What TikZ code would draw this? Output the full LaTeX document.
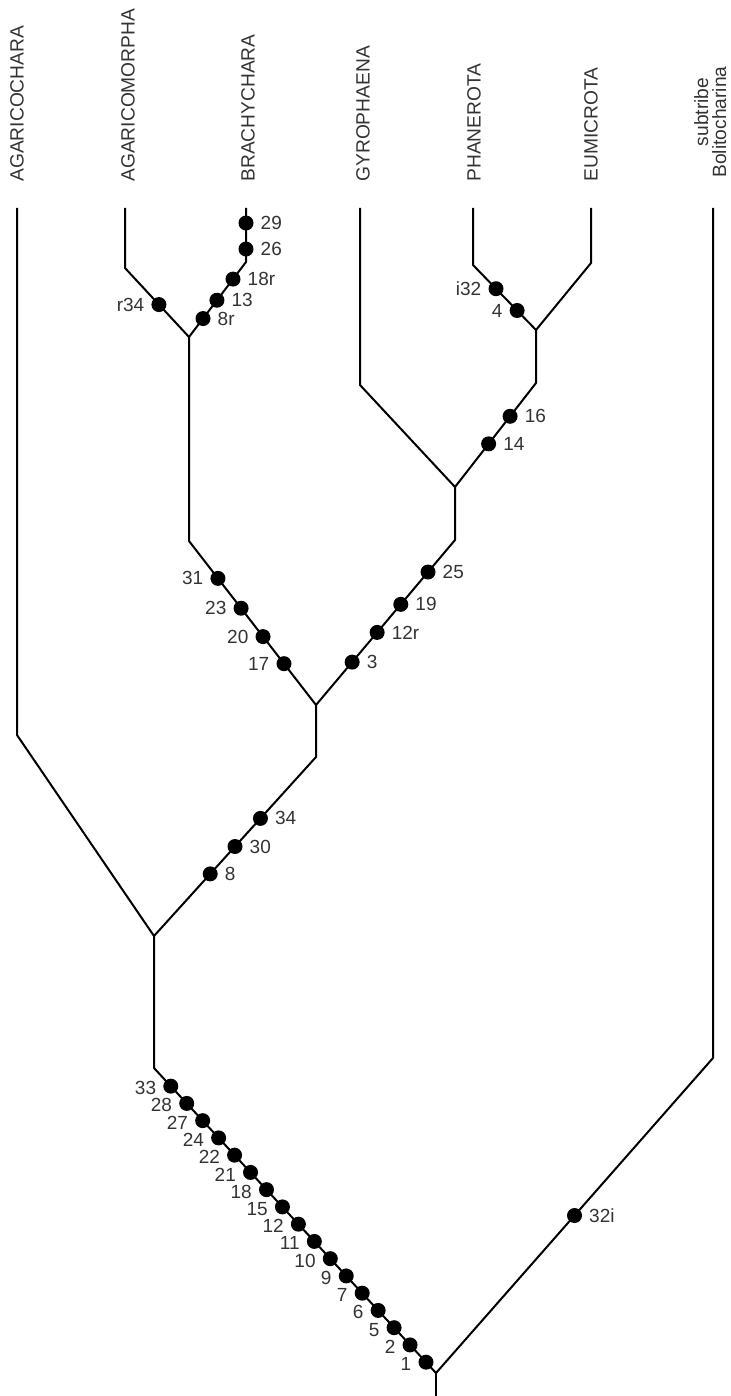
\documentclass[tikz,border=0pt]{standalone}
\usepackage{fontspec}
\setmainfont{Liberation Sans}
\usetikzlibrary{calc}
\begin{document}
\begin{tikzpicture}[x=0.5pt,y=-0.5pt,
  branch/.style={line width=1pt, line join=miter},
  dot/.style={circle, fill=black, inner sep=0pt, minimum size=7.5pt},
  num/.style={font=\fontsize{9.5}{10}\selectfont, text=black!80, inner sep=0pt},
  taxon/.style={rotate=90, inner sep=0pt, font=\fontsize{9.6}{11}\selectfont, text=black!80},
  label distance=3.2pt]
\useasboundingbox (0,0) rectangle (730,1396);

% coordinates
\coordinate (tAgc) at (17,208);  \coordinate (bAgc) at (17,735);
\coordinate (tAgm) at (125,208); \coordinate (bAgm) at (125,268);
\coordinate (tBra) at (246,208); \coordinate (bBra) at (246,262);
\coordinate (jBA)  at (189,337); \coordinate (kBA)  at (189,541);
\coordinate (jMid) at (316,705); \coordinate (kMid) at (316,757);
\coordinate (tGyr) at (360,208); \coordinate (bGyr) at (360,385);
\coordinate (jGP)  at (455,487); \coordinate (kGP)  at (455,540);
\coordinate (tPha) at (473,208); \coordinate (bPha) at (473,265);
\coordinate (tEum) at (591,208); \coordinate (bEum) at (591,263);
\coordinate (jPE)  at (536,330); \coordinate (kPE)  at (536,383);
\coordinate (jAg)  at (154,936); \coordinate (kAg)  at (154,1068);
\coordinate (root) at (436,1373); \coordinate (rootB) at (436,1396);
\coordinate (tBol) at (713,208); \coordinate (bBol) at (713,1058);

% branches
\draw[branch] (tAgc) -- (bAgc) -- (jAg);
\draw[branch] (tAgm) -- (bAgm) -- (jBA);
\draw[branch] (tBra) -- (bBra) -- (jBA);
\draw[branch] (jBA) -- (kBA) -- (jMid);
\draw[branch] (tGyr) -- (bGyr) -- (jGP);
\draw[branch] (tPha) -- (bPha) -- (jPE);
\draw[branch] (tEum) -- (bEum) -- (jPE);
\draw[branch] (jPE) -- (kPE) -- (jGP);
\draw[branch] (jGP) -- (kGP) -- (jMid);
\draw[branch] (jMid) -- (kMid) -- (jAg);
\draw[branch] (jAg) -- (kAg) -- (root);
\draw[branch] (tBol) -- (bBol) -- (root);
\draw[branch] (root) -- (rootB);

% taxon labels
\node[taxon, anchor=west] (nAgc) at (17,182) {AGARICOCHARA};
\node[taxon, anchor=west] (nAgm) at (128,182) {AGARICOMORPHA};
\node[taxon, anchor=west] (nBra) at (248,182) {BRACHYCHARA};
\node[taxon, anchor=west] (nGyr) at (363,182) {GYROPHAENA};
\node[taxon, anchor=west] (nPha) at (474,182) {PHANEROTA};
\node[taxon, anchor=west] (nEum) at (591,182) {EUMICROTA};
\node[taxon, anchor=base] (nSub) at (708,112) {subtribe};
\node[taxon, anchor=base] (nBol) at (726,122) {Bolitocharina};

% Brachychara
\node[dot, label={[num]right:29}] (d29) at ($(tBra)!0.278!(bBra)$) {};
\node[dot, label={[num]right:26}] (d26) at ($(tBra)!0.76!(bBra)$) {};
\node[dot, label={[num]right:18r}] (d18r) at ($(bBra)!0.228!(jBA)$) {};
\node[dot, label={[num]right:13}] (d13) at ($(bBra)!0.51!(jBA)$) {};
\node[dot, label={[num]right:8r}] (d8r) at ($(bBra)!0.754!(jBA)$) {};
\node[dot, label={[num]left:r34}] (dr34) at ($(bAgm)!0.53!(jBA)$) {};

% Brachychara stem
\node[dot, label={[num]left:31}] (d31) at ($(kBA)!0.228!(jMid)$) {};
\node[dot, label={[num]left:23}] (d23) at ($(kBA)!0.41!(jMid)$) {};
\node[dot, label={[num]left:20}] (d20) at ($(kBA)!0.583!(jMid)$) {};
\node[dot, label={[num]left:17}] (d17) at ($(kBA)!0.748!(jMid)$) {};

% Gyrophaena stem
\node[dot, label={[num]right:3}] (d3) at ($(jMid)!0.26!(kGP)$) {};
\node[dot, label={[num]right:12r}] (d12r) at ($(jMid)!0.44!(kGP)$) {};
\node[dot, label={[num]right:19}] (d19) at ($(jMid)!0.61!(kGP)$) {};
\node[dot, label={[num]right:25}] (d25) at ($(jMid)!0.806!(kGP)$) {};

% Phanerota
\node[dot, label={[num]left:i32}] (di32) at ($(bPha)!0.365!(jPE)$) {};
\node[dot, label={[num]left:4}] (d4) at ($(bPha)!0.7!(jPE)$) {};
\node[dot, label={[num]right:16}] (d16) at ($(kPE)!0.32!(jGP)$) {};
\node[dot, label={[num]right:14}] (d14) at ($(kPE)!0.585!(jGP)$) {};

% main stem
\node[dot, label={[num]right:34}] (d34) at ($(kMid)!0.343!(jAg)$) {};
\node[dot, label={[num]right:30}] (d30) at ($(kMid)!0.5!(jAg)$) {};
\node[dot, label={[num]right:8}] (d8) at ($(kMid)!0.653!(jAg)$) {};

% long basal diagonal
\foreach \n [count=\i from 0] in {33,28,27,24,22,21,18,15,12,11,10,9,7,6,5,2,1} {
  \pgfmathsetmacro\tt{0.0595+\i*0.05656}
  \node[dot, label={[num, yshift=-1pt]left:\n}] (L\n) at ($(kAg)!\tt!(root)$) {};
}

% Bolitocharina
\node[dot, label={[num]right:32i}] (d32i) at ($(root)!0.5!(bBol)$) {};
\end{tikzpicture}
\end{document}
